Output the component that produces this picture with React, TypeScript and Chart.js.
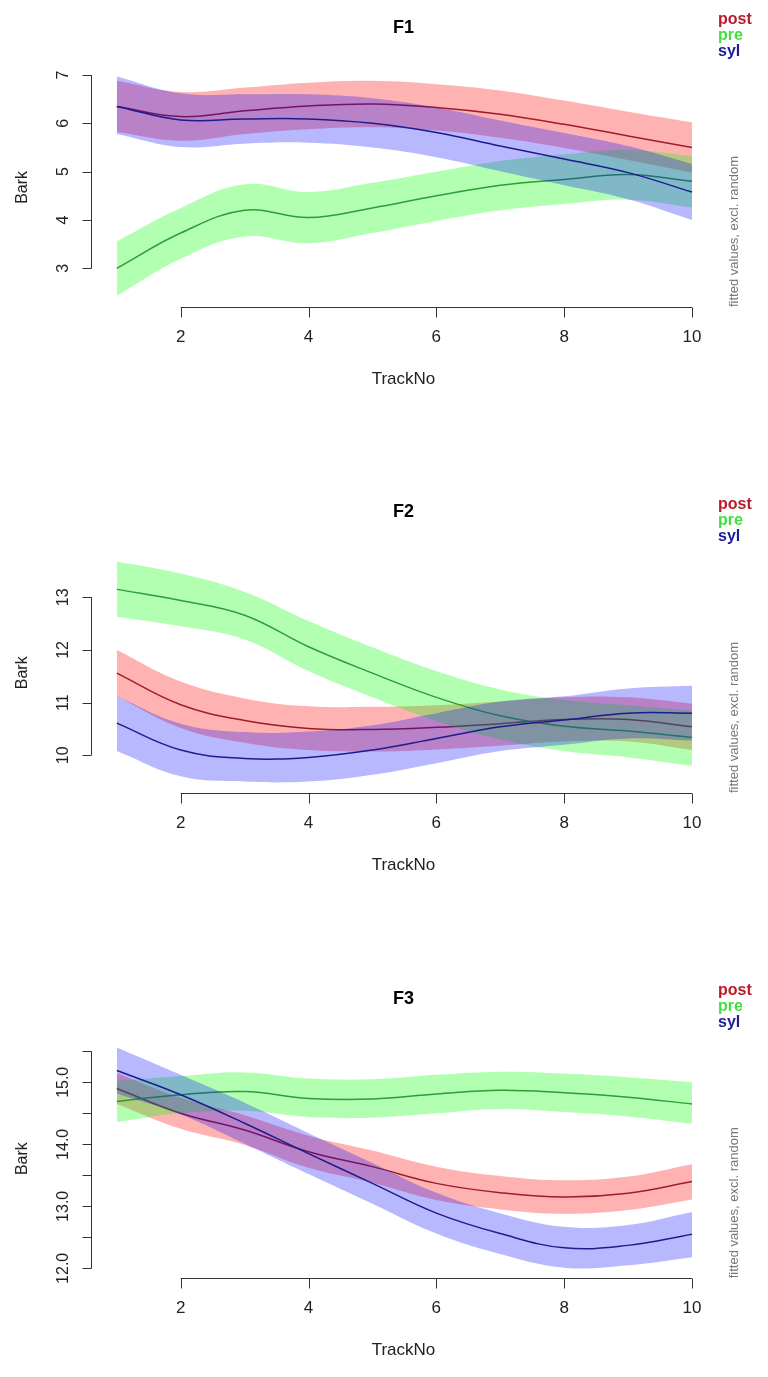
import React, { useEffect, useRef } from "react";
import { Chart, registerables } from "chart.js";

Chart.register(...registerables);

// ---------------- data ----------------
const trackNo = [1, 2, 3, 4, 5, 6, 7, 8, 9, 10];
const xTicks = [2, 4, 6, 8, 10];
const groupNames = ["post", "pre", "syl"];

// F1
const f1PostFit = [6.35, 6.14, 6.26, 6.36, 6.4, 6.33, 6.19, 5.98, 5.74, 5.5];
const f1PostUpper = [6.88, 6.65, 6.74, 6.84, 6.88, 6.81, 6.68, 6.47, 6.24, 6.02];
const f1PostLower = [5.82, 5.64, 5.78, 5.88, 5.92, 5.85, 5.7, 5.49, 5.24, 4.98];
const f1PreFit = [3.0, 3.73, 4.2, 4.05, 4.25, 4.5, 4.72, 4.84, 4.94, 4.8];
const f1PreUpper = [3.56, 4.25, 4.74, 4.58, 4.77, 5.0, 5.22, 5.36, 5.45, 5.33];
const f1PreLower = [2.43, 3.2, 3.66, 3.52, 3.73, 3.98, 4.2, 4.33, 4.42, 4.26];
const f1SylFit = [6.35, 6.07, 6.09, 6.09, 6.0, 5.81, 5.53, 5.26, 4.98, 4.58];
const f1SylUpper = [6.97, 6.62, 6.6, 6.6, 6.52, 6.33, 6.06, 5.8, 5.53, 5.16];
const f1SylLower = [5.78, 5.51, 5.58, 5.6, 5.5, 5.3, 5.01, 4.72, 4.43, 4.0];
const f1YTicks = [3, 4, 5, 6, 7];
const f1YLabels = ["3", "4", "5", "6", "7"];

// F2
const f2PostFit = [11.56, 10.96, 10.66, 10.51, 10.49, 10.53, 10.6, 10.68, 10.68, 10.54];
const f2PostUpper = [12.0, 11.4, 11.08, 10.93, 10.92, 10.95, 11.02, 11.1, 11.1, 10.98];
const f2PostLower = [11.12, 10.52, 10.24, 10.1, 10.07, 10.11, 10.18, 10.26, 10.26, 10.1];
const f2PreFit = [13.15, 12.94, 12.66, 12.06, 11.56, 11.1, 10.75, 10.55, 10.46, 10.34];
const f2PreUpper = [13.68, 13.45, 13.1, 12.55, 12.05, 11.6, 11.25, 11.05, 10.95, 10.85];
const f2PreLower = [12.63, 12.45, 12.2, 11.6, 11.1, 10.65, 10.3, 10.08, 9.96, 9.8];
const f2SylFit = [10.61, 10.1, 9.94, 9.96, 10.1, 10.32, 10.54, 10.67, 10.8, 10.8];
const f2SylUpper = [11.12, 10.6, 10.44, 10.45, 10.57, 10.8, 11.02, 11.12, 11.27, 11.32];
const f2SylLower = [10.08, 9.6, 9.5, 9.5, 9.63, 9.85, 10.08, 10.2, 10.32, 10.28];
const f2YTicks = [10, 11, 12, 13];
const f2YLabels = ["10", "11", "12", "13"];

// F3
const f3PostFit = [14.9, 14.5, 14.23, 13.88, 13.64, 13.37, 13.22, 13.15, 13.21, 13.4];
const f3PostUpper = [15.15, 14.75, 14.47, 14.14, 13.9, 13.64, 13.49, 13.42, 13.48, 13.68];
const f3PostLower = [14.65, 14.25, 13.99, 13.62, 13.38, 13.1, 12.95, 12.88, 12.94, 13.11];
const f3PreFit = [14.69, 14.8, 14.85, 14.74, 14.73, 14.81, 14.87, 14.83, 14.76, 14.65];
const f3PreUpper = [15.02, 15.1, 15.16, 15.06, 15.05, 15.12, 15.17, 15.14, 15.08, 15.0];
const f3PreLower = [14.36, 14.5, 14.54, 14.44, 14.43, 14.5, 14.57, 14.52, 14.45, 14.33];
const f3SylFit = [15.19, 14.8, 14.34, 13.85, 13.37, 12.89, 12.56, 12.33, 12.37, 12.55];
const f3SylUpper = [15.56, 15.12, 14.67, 14.18, 13.7, 13.22, 12.89, 12.67, 12.7, 12.91];
const f3SylLower = [14.82, 14.48, 14.01, 13.52, 13.04, 12.56, 12.23, 12.01, 12.05, 12.18];
const f3YTicks = [12, 12.5, 13, 13.5, 14, 14.5, 15, 15.5];
const f3YLabels = ["12.0", "", "13.0", "", "14.0", "", "15.0", ""];

// ---------------- styles ----------------
const FONT = "'Liberation Sans', Arial, Helvetica, sans-serif";
const bandColors = ["rgba(255,0,0,0.3)", "rgba(0,255,0,0.3)", "rgba(0,0,255,0.28)"];
const lineColors = ["#A01C28", "#2E9E32", "#1C1C8E"];
const legendColors = ["#B81C2A", "#44DD44", "#1C1C96"];

type PanelCfg = {
  title: string;
  fits: number[][];
  uppers: number[][];
  lowers: number[][];
  yTicks: number[];
  yLabels: string[];
  yMin: number;
  yMax: number;
  padTop: number;
  padBottom: number;
};

const panels: PanelCfg[] = [
  {
    title: "F1",
    fits: [f1PostFit, f1PreFit, f1SylFit],
    uppers: [f1PostUpper, f1PreUpper, f1SylUpper],
    lowers: [f1PostLower, f1PreLower, f1SylLower],
    yTicks: f1YTicks,
    yLabels: f1YLabels,
    yMin: 2.2,
    yMax: 7.15,
    padTop: 67.75,
    padBottom: 152,
  },
  {
    title: "F2",
    fits: [f2PostFit, f2PreFit, f2SylFit],
    uppers: [f2PostUpper, f2PreUpper, f2SylUpper],
    lowers: [f2PostLower, f2PreLower, f2SylLower],
    yTicks: f2YTicks,
    yLabels: f2YLabels,
    yMin: 9.284,
    yMax: 13.85,
    padTop: 93.5,
    padBottom: 125,
  },
  {
    title: "F3",
    fits: [f3PostFit, f3PreFit, f3SylFit],
    uppers: [f3PostUpper, f3PreUpper, f3SylUpper],
    lowers: [f3PostLower, f3PreLower, f3SylLower],
    yTicks: f3YTicks,
    yLabels: f3YLabels,
    yMin: 11.839,
    yMax: 15.7,
    padTop: 120.9,
    padBottom: 98.7,
  },
];

const PANEL_H = 459;
const WIDTH = 768;

function makeAxesPlugin(cfg: PanelCfg) {
  return {
    id: "rAxes",
    afterDraw(chart: any) {
      const ctx: CanvasRenderingContext2D = chart.ctx;
      const xs = chart.scales.x;
      const ys = chart.scales.y;
      const area = chart.chartArea;
      ctx.save();
      ctx.strokeStyle = "#333";
      ctx.fillStyle = "#222";
      ctx.lineWidth = 1;

      // x axis
      const bY = Math.round(area.bottom) + 0.5;
      const x0 = xs.getPixelForValue(xTicks[0]);
      const x1 = xs.getPixelForValue(xTicks[xTicks.length - 1]);
      ctx.beginPath();
      ctx.moveTo(x0, bY);
      ctx.lineTo(x1, bY);
      xTicks.forEach((t) => {
        const px = Math.round(xs.getPixelForValue(t)) + 0.5;
        ctx.moveTo(px, bY);
        ctx.lineTo(px, bY + 10);
      });
      ctx.stroke();
      ctx.font = `17px ${FONT}`;
      ctx.textAlign = "center";
      ctx.textBaseline = "middle";
      xTicks.forEach((t) => {
        ctx.fillText(String(t), xs.getPixelForValue(t), area.bottom + 30);
      });
      ctx.fillText("TrackNo", (area.left + area.right) / 2, area.bottom + 72);

      // y axis
      const lX = Math.round(area.left) - 0.5;
      const y0 = ys.getPixelForValue(cfg.yTicks[0]);
      const y1 = ys.getPixelForValue(cfg.yTicks[cfg.yTicks.length - 1]);
      ctx.beginPath();
      ctx.moveTo(lX, y0);
      ctx.lineTo(lX, y1);
      cfg.yTicks.forEach((t) => {
        const py = Math.round(ys.getPixelForValue(t)) + 0.5;
        ctx.moveTo(lX, py);
        ctx.lineTo(lX - 9, py);
      });
      ctx.stroke();
      ctx.font = `16px ${FONT}`;
      cfg.yTicks.forEach((t, i) => {
        const lab = cfg.yLabels[i];
        if (!lab) return;
        ctx.save();
        ctx.translate(area.left - 28, ys.getPixelForValue(t));
        ctx.rotate(-Math.PI / 2);
        ctx.textAlign = "center";
        ctx.textBaseline = "middle";
        ctx.fillText(lab, 0, 0);
        ctx.restore();
      });
      ctx.font = `16px ${FONT}`;
      ctx.save();
      ctx.translate(22.5, (area.top + area.bottom) / 2);
      ctx.rotate(-Math.PI / 2);
      ctx.textAlign = "center";
      ctx.textBaseline = "middle";
      ctx.fillText("Bark", 0, 0);
      ctx.restore();

      // title
      ctx.font = `bold 18px ${FONT}`;
      ctx.fillStyle = "#000";
      ctx.textAlign = "center";
      ctx.textBaseline = "middle";
      ctx.fillText(cfg.title, (area.left + area.right) / 2, area.top - 40);

      // legend
      ctx.font = `bold 16px ${FONT}`;
      ctx.textAlign = "left";
      groupNames.forEach((g, i) => {
        ctx.fillStyle = legendColors[i];
        ctx.fillText(g, 718, area.top - 48 + i * 16);
      });

      // right side note
      ctx.font = `13px ${FONT}`;
      ctx.fillStyle = "#777";
      ctx.save();
      ctx.translate(area.right + 19, area.bottom);
      ctx.rotate(-Math.PI / 2);
      ctx.textAlign = "left";
      ctx.textBaseline = "middle";
      ctx.fillText("fitted values, excl. random", 0, 0);
      ctx.restore();

      ctx.restore();
    },
  };
}

function PanelChart({ cfg }: { cfg: PanelCfg }) {
  const ref = useRef<HTMLCanvasElement>(null);
  useEffect(() => {
    const toPts = (arr: number[]) => trackNo.map((x, i) => ({ x, y: arr[i] }));
    const datasets: any[] = [];
    groupNames.forEach((g, gi) => {
      datasets.push({
        label: g + " lower",
        data: toPts(cfg.lowers[gi]),
        borderWidth: 0,
        borderColor: "rgba(0,0,0,0)",
        pointRadius: 0,
        fill: false,
      });
      datasets.push({
        label: g + " upper",
        data: toPts(cfg.uppers[gi]),
        borderWidth: 0,
        borderColor: "rgba(0,0,0,0)",
        backgroundColor: bandColors[gi],
        pointRadius: 0,
        fill: "-1",
      });
      datasets.push({
        label: g,
        data: toPts(cfg.fits[gi]),
        borderWidth: 1.5,
        borderColor: lineColors[gi],
        pointRadius: 0,
        fill: false,
      });
    });
    datasets.forEach((d, i) => {
      d.order = 100 - i;
      d.tension = 0.4;
    });
    const chart = new Chart(ref.current as HTMLCanvasElement, {
      type: "line",
      data: { datasets },
      options: {
        animation: false,
        responsive: false,
        devicePixelRatio: 1,
        layout: {
          padding: { left: 92, right: 53, top: cfg.padTop, bottom: cfg.padBottom },
        },
        plugins: {
          legend: { display: false },
          tooltip: { enabled: false },
          filler: { propagate: false },
        },
        scales: {
          x: { type: "linear", min: 0.612, max: 10.36, display: false },
          y: { type: "linear", min: cfg.yMin, max: cfg.yMax, display: false },
        },
      },
      plugins: [makeAxesPlugin(cfg)],
    } as any);
    return () => chart.destroy();
  }, [cfg]);
  return (
    <canvas
      ref={ref}
      width={WIDTH}
      height={PANEL_H}
      style={{ display: "block", width: WIDTH, height: PANEL_H }}
    />
  );
}

export default function App() {
  return (
    <div
      style={{
        position: "absolute",
        left: 0,
        top: 0,
        width: WIDTH,
        height: PANEL_H * 3,
        background: "#fff",
        overflow: "hidden",
      }}
    >
      {panels.map((p) => (
        <PanelChart key={p.title} cfg={p} />
      ))}
    </div>
  );
}
